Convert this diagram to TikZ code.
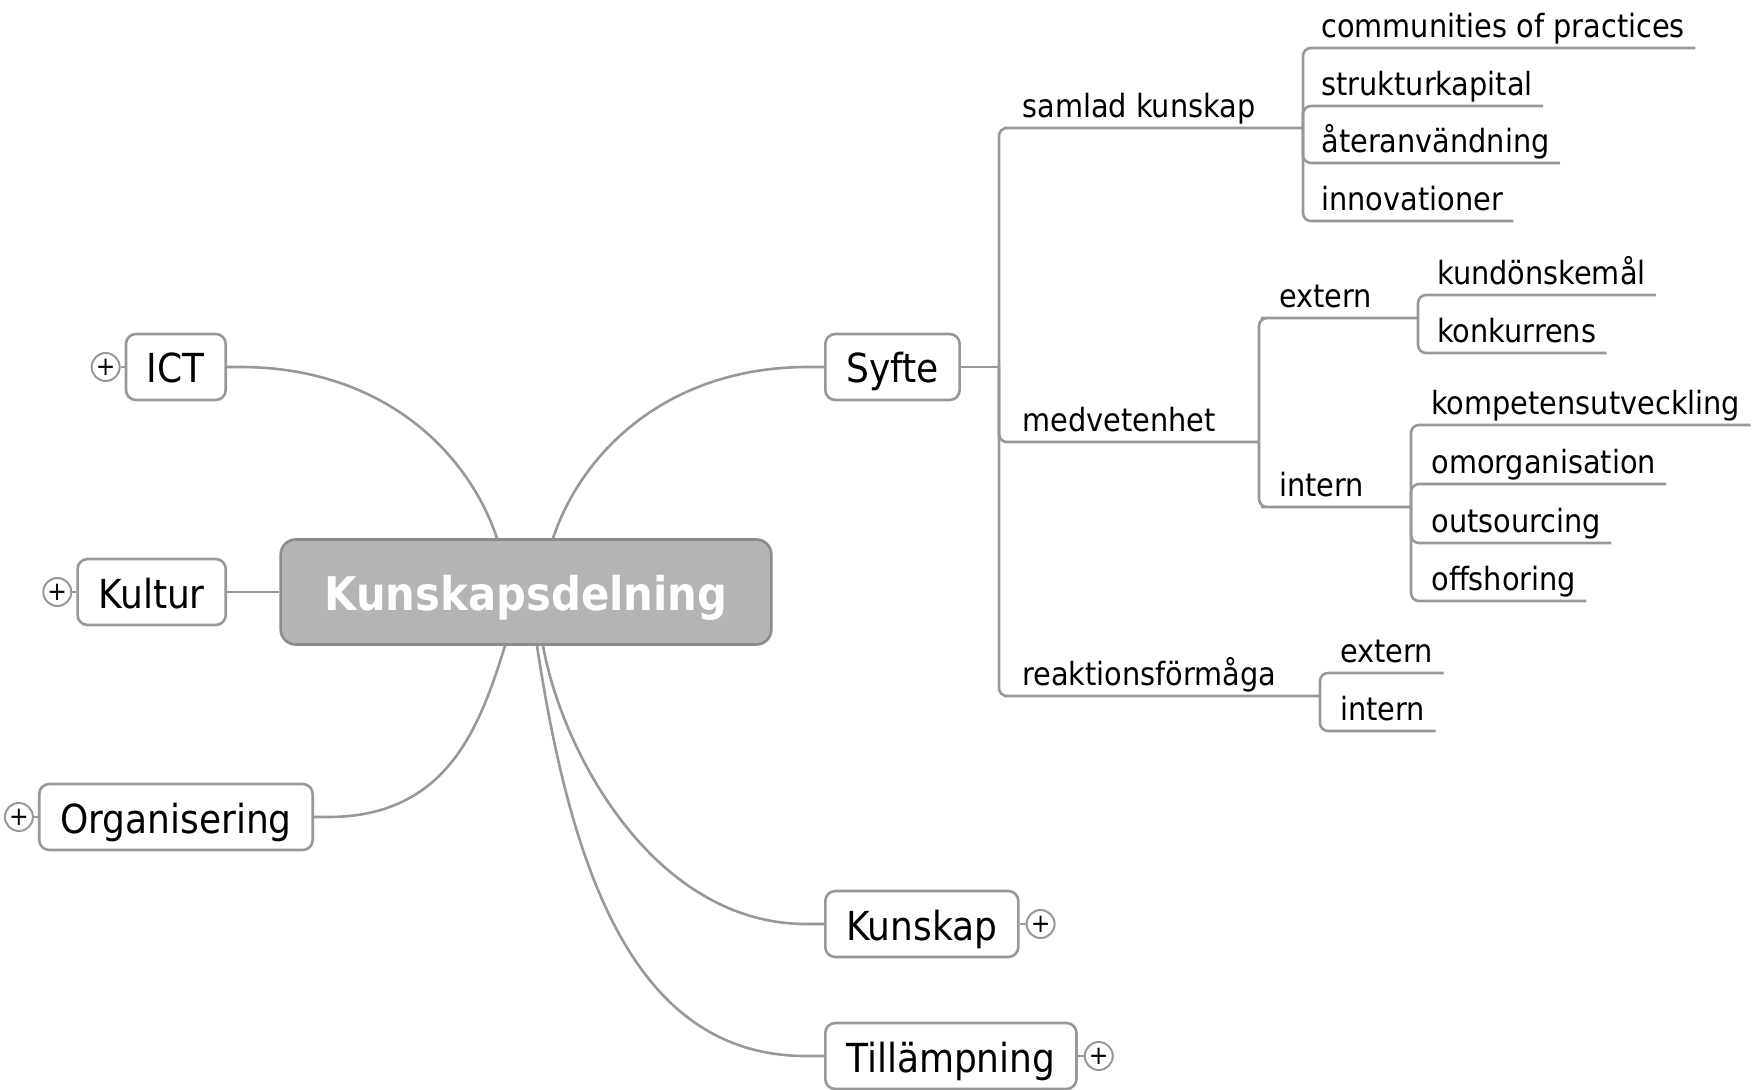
\documentclass[tikz,border=0pt]{standalone}
\usepackage{fontspec}
\setmainfont{DejaVu Sans Condensed}
\usetikzlibrary{positioning}
\definecolor{linegray}{RGB}{152,152,152}
\definecolor{kdgray}{RGB}{180,180,180}
\definecolor{kdline}{RGB}{140,140,140}

\begin{document}
\begin{tikzpicture}[x=0.5pt,y=-0.5pt,
  conn/.style={draw=linegray,line width=1.3pt},
  tree/.style={conn,rounded corners=4pt},
  root/.style={draw=kdline,fill=kdgray,rounded corners=7.5pt,line width=1.3pt,text=white,font=\bfseries\fontsize{23.2}{24}\selectfont,inner xsep=22pt,minimum height=52.5pt,text height=18pt,text depth=0pt},
  topic/.style={draw=linegray,fill=white,rounded corners=5pt,line width=1.3pt,font=\fontsize{20}{20}\selectfont,inner xsep=10.5pt,minimum height=33pt,text height=16pt,text depth=0pt},
  leaf/.style={anchor=south west,inner xsep=5pt,inner ysep=0pt,text depth=5pt,font=\fontsize{16}{16}\selectfont},
  plus/.style={circle,draw=linegray,fill=white,line width=1pt,inner sep=0pt,minimum size=14pt,font=\fontsize{13}{13}\selectfont}]
\useasboundingbox (0,0) rectangle (1754,1090);
\node[root] (kd) at (526,592) {Kunskapsdelning};
\node[topic,anchor=east] (ict) at (227,367) {ICT};
\node[topic,anchor=east] (kultur) at (227,592) {Kultur};
\node[topic,anchor=east] (org) at (314,817) {Organisering};
\node[topic,anchor=west] (syfte) at (824,367) {Syfte};
\node[topic,anchor=west] (kunskap) at (824,924) {Kunskap};
\node[topic,anchor=west] (till) at (824,1056) {Tillämpning};
\node[plus,left=2pt of ict] (ictp) {+};
\node[plus,left=2pt of kultur] (kulturp) {+};
\node[plus,left=2pt of org] (orgp) {+};
\node[plus,right=3pt of kunskap] (kunskapp) {+};
\node[plus,right=3pt of till] (tillp) {+};
\draw[conn] (ictp)--(ict); \draw[conn] (kulturp)--(kultur); \draw[conn] (orgp)--(org);
\draw[conn] (kunskap)--(kunskapp); \draw[conn] (till)--(tillp);
\draw[conn] (ict.east) -- ++(13,0) .. controls +(140,0) and +(-30,-89) .. ([xshift=-14.5pt]kd.north);
\draw[conn] (syfte.west) -- ++(-16,0) .. controls +(-138,0) and +(30,-89) .. ([xshift=13.5pt]kd.north);
\draw[conn] (kultur)--(kd);
\draw[conn] (org.east) -- ++(14,0) .. controls +(120,0) and +(-25,80) .. ([xshift=-10.5pt]kd.south);
\draw[conn] (kunskap.west) -- ++(-18,0) .. controls +(-150,0) and +(20,110) .. ([xshift=8.5pt]kd.south);
\draw[conn] (till.west) -- ++(-18,0) .. controls +(-170,0) and +(35,230) .. ([xshift=5.5pt]kd.south);

\coordinate (s0) at (999,367);
\node[leaf] (samlad) at (1012,128) {samlad kunskap};
\node[leaf] (medv) at (1012,442) {medvetenhet};
\node[leaf] (reakt) at (1012,696) {reaktionsförmåga};
\coordinate (samladj) at (1303,128);
\coordinate (medvj) at (1259,442);
\coordinate (reaktj) at (1320,696);
\draw[conn] (syfte)--(s0);
\draw[tree] (s0) |- (samlad.south west) -- (samladj);
\draw[tree] (s0) |- (medv.south west) -- (medvj);
\draw[tree] (s0) |- (reakt.south west) -- (reaktj);

\node[leaf] (cop) at (1311,48) {communities of practices};
\node[leaf] (struk) at (1311,106) {strukturkapital};
\node[leaf] (ater) at (1311,163) {återanvändning};
\node[leaf] (innov) at (1311,221) {innovationer};
\draw[tree] (samladj) |- (cop.south east); \draw[tree] (samladj) |- (struk.south east);
\draw[tree] (samladj) |- (ater.south east); \draw[tree] (samladj) |- (innov.south east);

\node[leaf] (mext) at (1269,318) {extern};
\node[leaf] (mint) at (1269,507) {intern};
\coordinate (mextj) at (1418,318);
\coordinate (mintj) at (1411,507);
\draw[tree] (medvj) |- (mext.south west) -- (mextj);
\draw[tree] (medvj) |- (mint.south west) -- (mintj);

\node[leaf] (kund) at (1427,295) {kundönskemål};
\node[leaf] (konk) at (1427,353) {konkurrens};
\draw[tree] (mextj) |- (kund.south east); \draw[tree] (mextj) |- (konk.south east);

\node[leaf] (komp) at (1421,425) {kompetensutveckling};
\node[leaf] (omorg) at (1421,484) {omorganisation};
\node[leaf] (outs) at (1421,543) {outsourcing};
\node[leaf] (offs) at (1421,601) {offshoring};
\draw[tree] (mintj) |- (komp.south east); \draw[tree] (mintj) |- (omorg.south east);
\draw[tree] (mintj) |- (outs.south east); \draw[tree] (mintj) |- (offs.south east);

\node[leaf] (rext) at (1330,673) {extern};
\node[leaf] (rint) at (1330,731) {intern};
\draw[tree] (reaktj) |- (rext.south east); \draw[tree] (reaktj) |- (rint.south east);
\end{tikzpicture}
\end{document}
